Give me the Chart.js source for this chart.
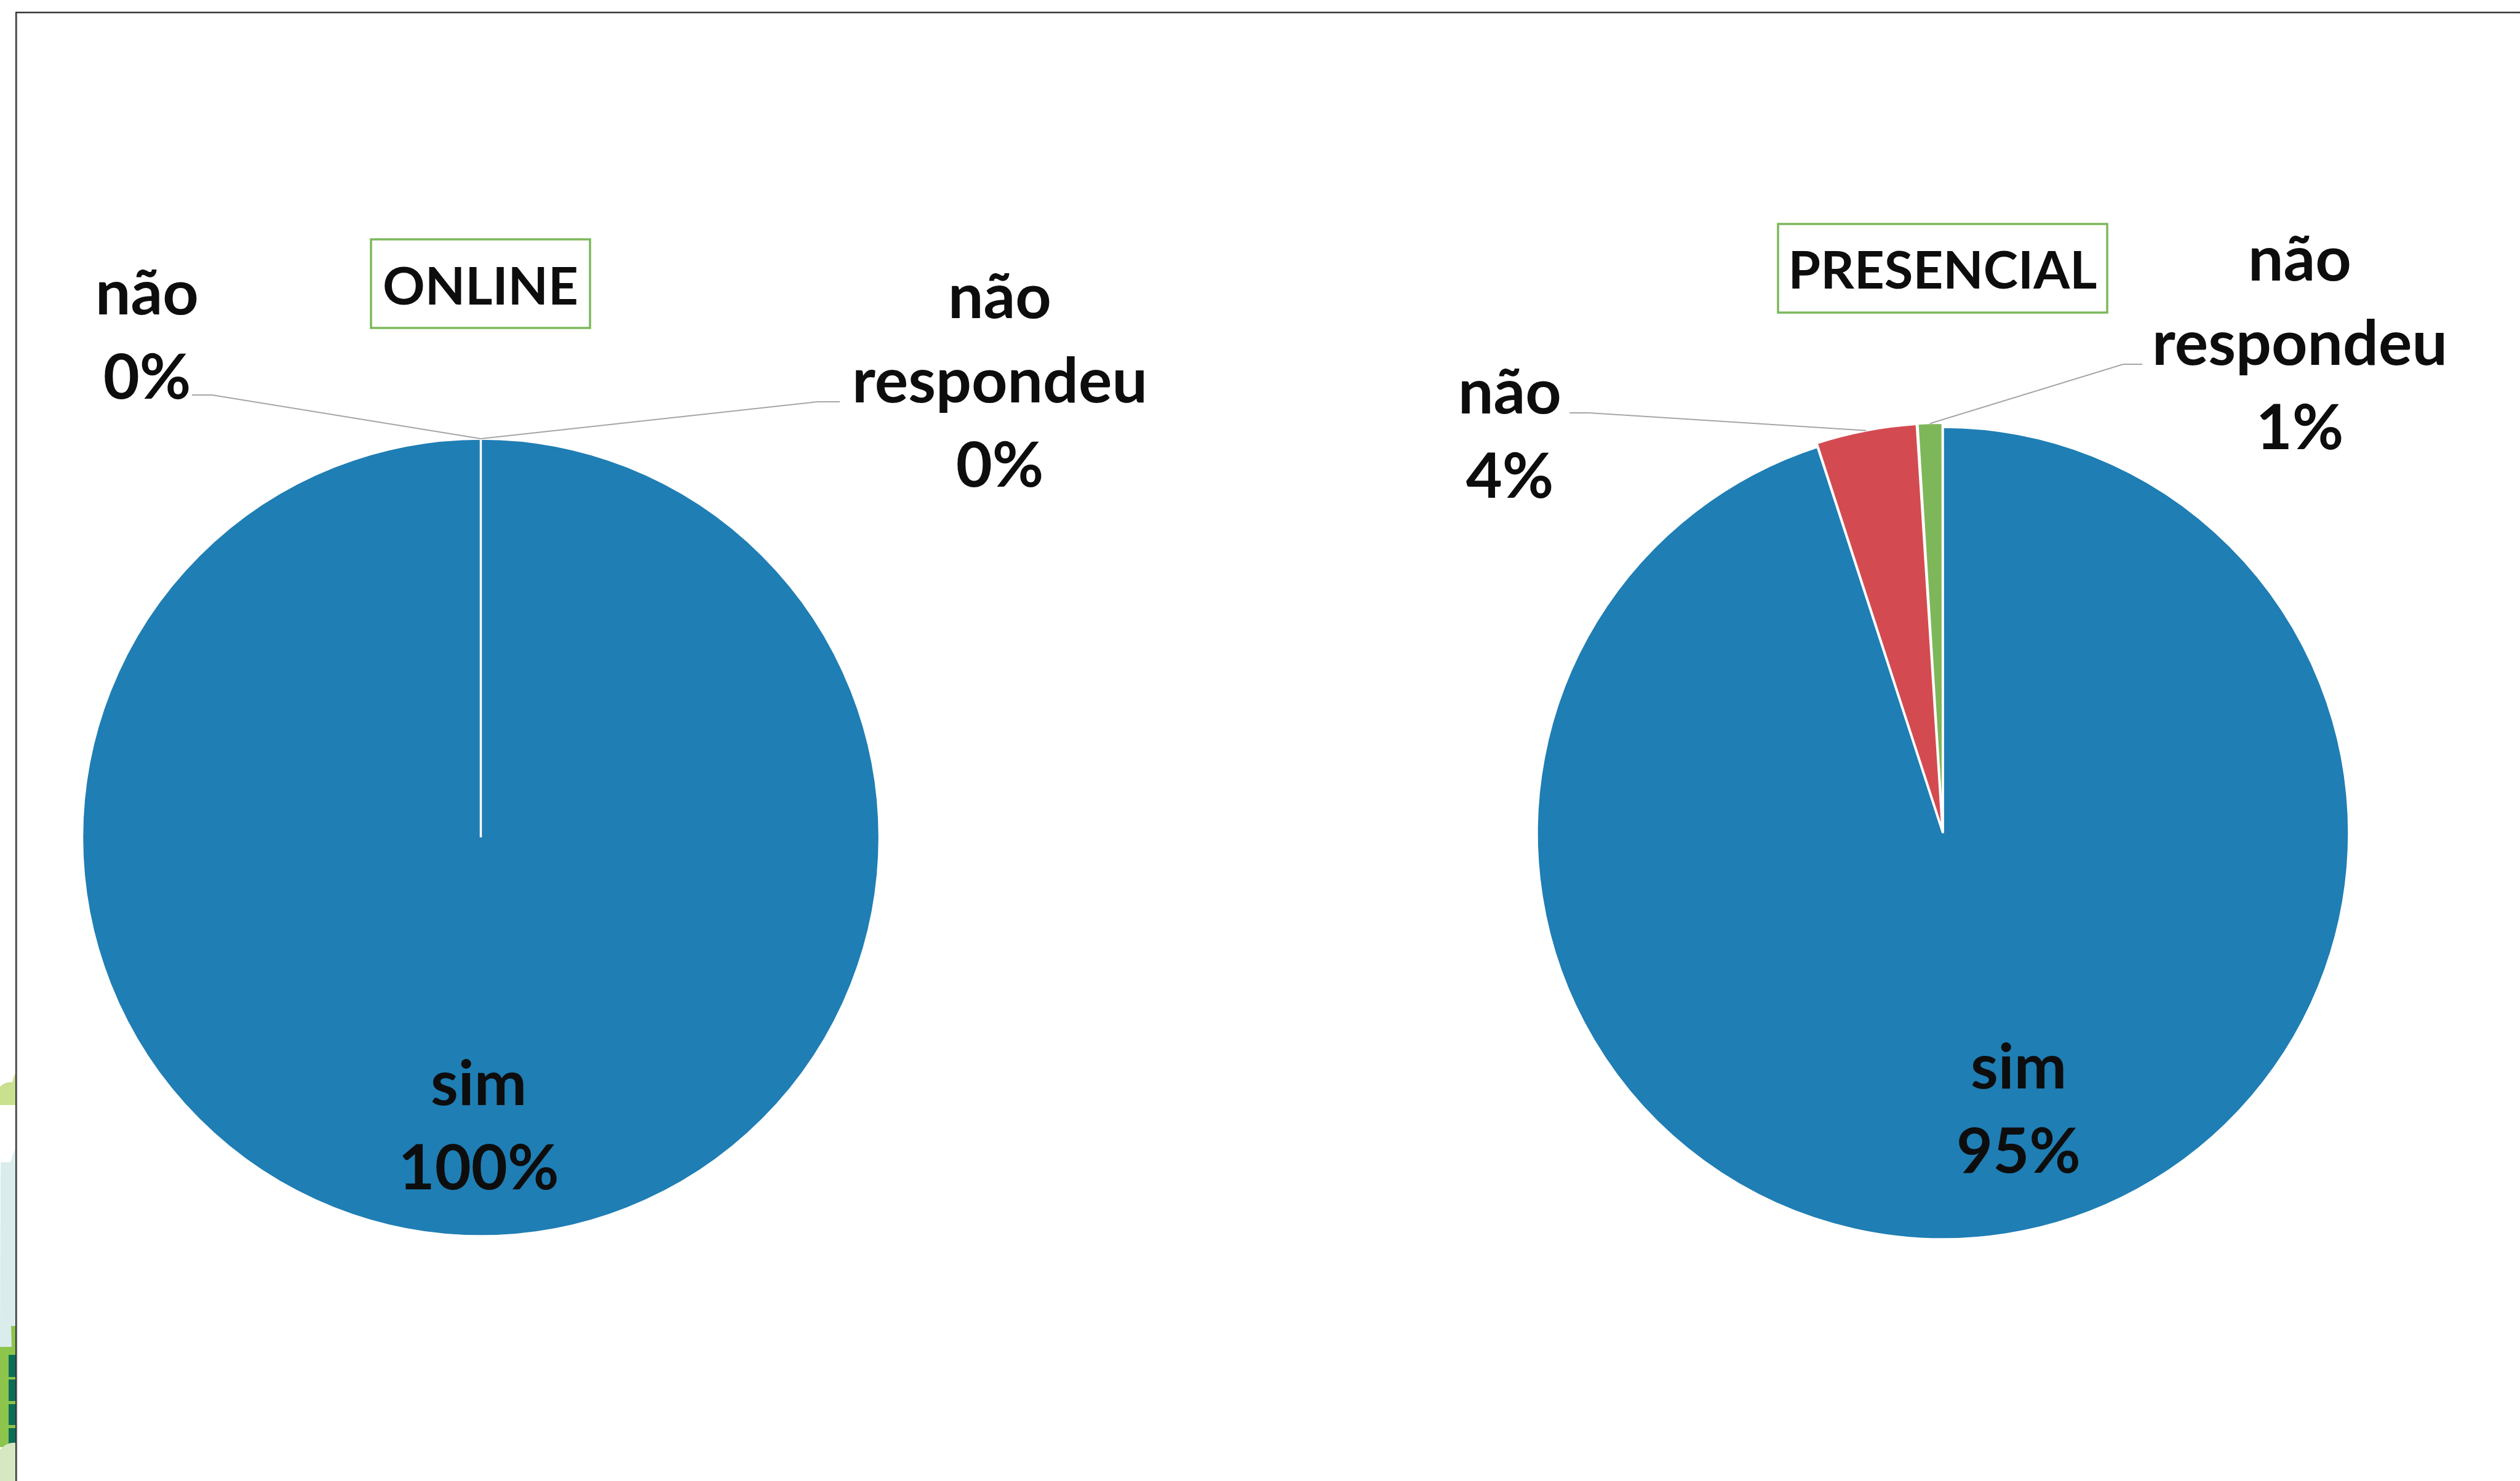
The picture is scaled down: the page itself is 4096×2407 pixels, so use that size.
<!DOCTYPE html>
<html>
<head>
<meta charset="utf-8">
<script src="https://cdn.jsdelivr.net/npm/chart.js@4.4.1/dist/chart.umd.min.js"></script>
<style>
html,body{margin:0;padding:0;background:#fff;overflow:hidden;}
#wrap{position:relative;width:4096px;height:2407px;}
#wrap canvas{position:absolute;left:0;top:0;}
</style>
</head>
<body>
<div id="wrap">
<canvas id="onlineChart" width="4096" height="2407"></canvas>
<canvas id="presencialChart" width="4096" height="2407"></canvas>
</div>
<script>

// data (percent of answers)
const categories = ["sim", "não", "não respondeu"];
const onlineValues = [100, 0, 0];
const presencialValues = [95, 4, 1];
const chartTitles = ["ONLINE", "PRESENCIAL"];

const sliceColors = ["#1F7EB4", "#D34B51", "#7EB75A"];

const textColor = "#0D0D0D";
const labelFont = "bold 102px Lato";
const titleFont = "bold 85px Lato";
const lineGap = 137;


// where the pies and their labels sit on the page
const onlineLayout = {
  cx: 781.5, cy: 1361, r: 648,
  titleBox: {x: 603, y: 389, w: 356, h: 144, baseline: 495},
  labels: [
    {slice: 0, x: 778, y: 1796},
    {slice: 1, x: 239, y: 511, leader: [[312, 642], [345, 642]]},
    {slice: 2, x: 1625, y: 517, leader: [[1365, 653], [1329, 653]]}
  ]
};

const presencialLayout = {
  cx: 3158, cy: 1354, r: 660,
  titleBox: {x: 2890, y: 364, w: 535, h: 144, baseline: 469},
  labels: [
    {slice: 0, x: 3281, y: 1769},
    {slice: 1, x: 2454, y: 672, leader: [[2551, 671], [2583, 671]]},
    {slice: 2, x: 3738, y: 456, leader: [[3482, 592], [3451, 592]]}
  ]
};


function padFor(lay){
  const half = 720;
  return {
    left: lay.cx - half,
    right: 4096 - (lay.cx + half),
    top: lay.cy - half,
    bottom: 2407 - (lay.cy + half)
  };
}


function arcTip(arc){
  const p = arc.getProps(["x", "y", "startAngle", "endAngle", "outerRadius"], true);
  const mid = (p.startAngle + p.endAngle) / 2;
  const off = (arc.options.offset || 0) / 4;
  const r = p.outerRadius + off * 1.75;
  return [p.x + Math.cos(mid) * r, p.y + Math.sin(mid) * r];
}


// page frame and the bits of background art showing on the left edge
const framePlugin = {
  id: "pageFrame",
  beforeDraw(chart){
    const ctx = chart.ctx;
    ctx.save();

    ctx.fillStyle = "#C9E08F";
    ctx.beginPath();
    ctx.moveTo(0, 1796);
    ctx.lineTo(0, 1766);
    ctx.quadraticCurveTo(10, 1757, 20, 1759);
    ctx.quadraticCurveTo(22, 1749, 25, 1745);
    ctx.lineTo(25, 1796);
    ctx.closePath();
    ctx.fill();

    ctx.fillStyle = "#DAECEC";
    ctx.beginPath();
    ctx.moveTo(0, 2189);
    ctx.lineTo(1, 1889);
    ctx.lineTo(17, 1889);
    ctx.lineTo(25, 1866);
    ctx.lineTo(25, 2189);
    ctx.closePath();
    ctx.fill();

    ctx.fillStyle = "#8CC44C";
    ctx.beginPath();
    ctx.moveTo(0, 2189);
    ctx.lineTo(19, 2189);
    ctx.lineTo(18, 2155);
    ctx.lineTo(25, 2155);
    ctx.lineTo(25, 2352);
    ctx.lineTo(0, 2352);
    ctx.closePath();
    ctx.fill();

    ctx.fillStyle = "#0A6F56";
    [[2202, 2238], [2242, 2277], [2282, 2316], [2321, 2350]].forEach(function(s){
      ctx.fillRect(14, s[0], 11, s[1] - s[0]);
    });

    ctx.fillStyle = "#D6E8C1";
    ctx.beginPath();
    ctx.moveTo(0, 2407);
    ctx.lineTo(0, 2356);
    ctx.quadraticCurveTo(12, 2343, 25, 2345);
    ctx.lineTo(25, 2407);
    ctx.closePath();
    ctx.fill();

    ctx.fillStyle = "#333333";
    ctx.fillRect(25, 19, 4071, 2.6);
    ctx.fillRect(25, 19, 2.6, 2388);
    ctx.fillStyle = "#D9D9D9";
    ctx.fillRect(27.6, 21.6, 4068, 1);
    ctx.fillRect(27.6, 21.6, 1, 2386);

    ctx.restore();
  }
};


// excel-like data labels with leader lines plus the boxed title
const calloutPlugin = {
  id: "callouts",
  afterDatasetsDraw(chart, args, opts){
    const ctx = chart.ctx;
    const meta = chart.getDatasetMeta(0);
    const values = chart.data.datasets[0].data;
    const total = values.reduce(function(a, b){ return a + b; }, 0);
    const lay = opts.layout;

    ctx.save();

    lay.labels.forEach(function(l){
      if(l.leader){
        const tip = arcTip(meta.data[l.slice]);
        ctx.strokeStyle = "#A6A6A6";
        ctx.lineWidth = 2;
        ctx.beginPath();
        ctx.moveTo(l.leader[0][0], l.leader[0][1]);
        for(let i = 1; i < l.leader.length; i++){
          ctx.lineTo(l.leader[i][0], l.leader[i][1]);
        }
        ctx.lineTo(tip[0], tip[1]);
        ctx.stroke();
      }
    });

    ctx.fillStyle = textColor;
    ctx.font = labelFont;
    ctx.textAlign = "center";
    ctx.textBaseline = "alphabetic";

    lay.labels.forEach(function(l){
      const lines = chart.data.labels[l.slice].split(" ");
      lines.push(Math.round(values[l.slice] / total * 100) + "%");
      lines.forEach(function(t, i){
        ctx.fillText(t, l.x, l.y + i * lineGap);
      });
    });

    const b = lay.titleBox;
    ctx.strokeStyle = "#7CB85B";
    ctx.lineWidth = 3.5;
    ctx.strokeRect(b.x, b.y, b.w, b.h);
    ctx.font = titleFont;
    ctx.fillText(opts.title, b.x + b.w / 2, b.baseline);

    ctx.restore();
  }
};


function makePie(id, values, title, lay, offsets, extra){

  return new Chart(
    document.getElementById(id),
    {
      type: "pie",
      data: {
        labels: categories,
        datasets: [{
          data: values,
          backgroundColor: sliceColors,
          borderColor: "#FFFFFF",
          borderWidth: 3.5,
          offset: offsets,
          radius: lay.r
        }]
      },
      options: {
        responsive: false,
        animation: false,
        events: [],
        layout: {padding: padFor(lay)},
        plugins: {
          legend: {display: false},
          tooltip: {enabled: false},
          title: {display: false},
          callouts: {layout: lay, title: title}
        }
      },
      plugins: extra
    });

}


function build(){

  makePie("onlineChart", onlineValues, chartTitles[0], onlineLayout,
    [0, 0, 0], [framePlugin, calloutPlugin]);

  makePie("presencialChart", presencialValues, chartTitles[1], presencialLayout,
    [0, 14, 14], [calloutPlugin]);

}


document.fonts.load(labelFont).then(build, build);

</script>
</body>
</html>
